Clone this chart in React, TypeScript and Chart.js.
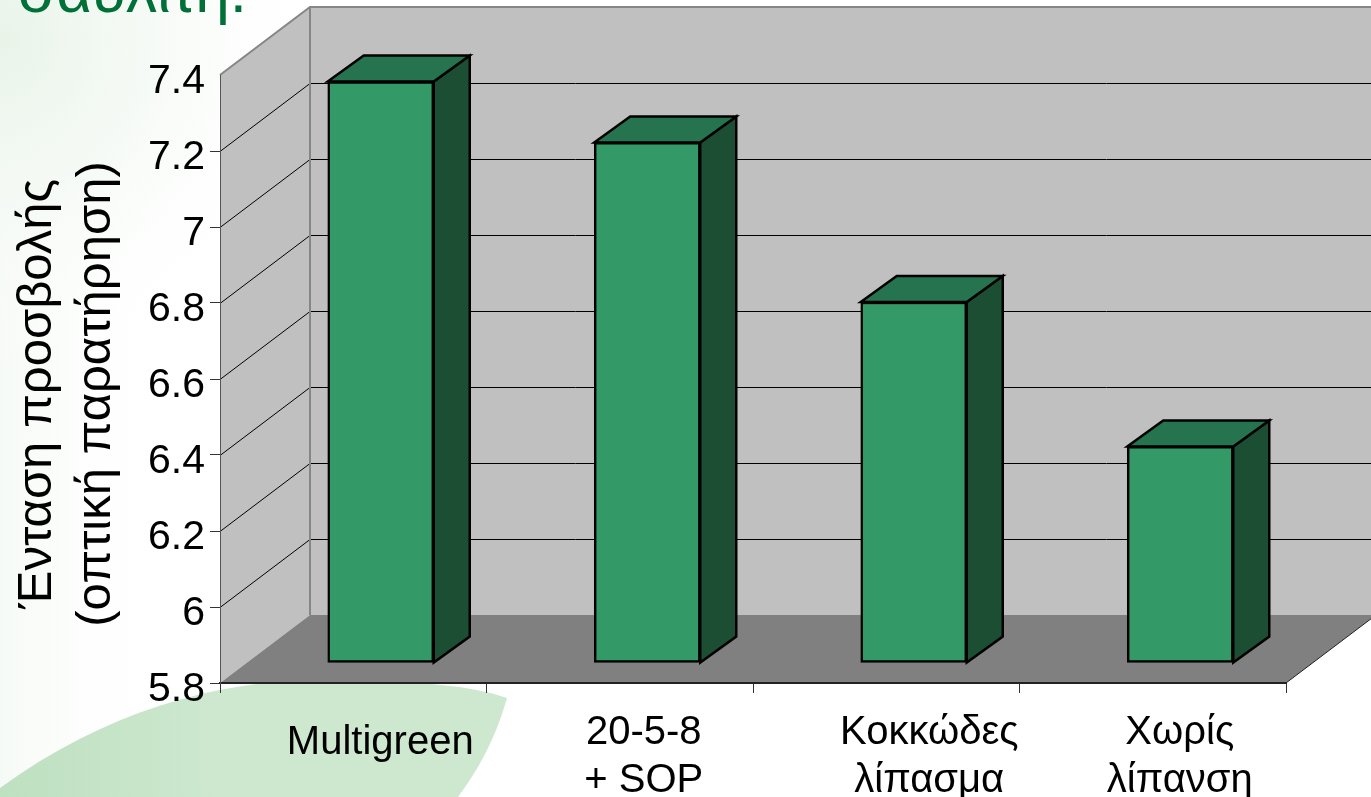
import React, { useEffect, useRef } from "react";
import { Chart, registerables } from "chart.js";

Chart.register(...registerables);

const categories: string[][] = [["Multigreen"], ["20-5-8", "+ SOP"], ["Κοκκώδες", "λίπασμα"], ["Χωρίς", "λίπανση"]];
const values = [7.33, 7.17, 6.75, 6.37];
const yTitle = ["Ένταση προσβολής", "(οπτική παρατήρηση)"];
const headline = "σαυλίτη.";
const labelNudgeX = [0, -3, 16, 0];
const labelNudgeY = [9, -1, -1, -1];

const DX = 90, DY = -68; // chart depth
const BAR_DX = 27.5, BAR_DY = -20; // bar front plane offset
const BDX = 36, BDY = -26; // bar depth
const FONT = "Liberation Sans, Arial, sans-serif";
const TITLE_SHIFT_X = 8, TITLE_SHIFT_Y = 15;

const scene = {
  id: "scene",
  beforeDraw(chart: any) {
    const { ctx, chartArea: a, scales } = chart;
    const W = chart.width, H = chart.height;
    ctx.save();
    // page background
    ctx.fillStyle = "#ffffff";
    ctx.fillRect(0, 0, W, H);
    let g = ctx.createLinearGradient(0, 0, 180, 0);
    g.addColorStop(0, "#f6faf6");
    g.addColorStop(1, "rgba(255,255,255,0)");
    ctx.fillStyle = g;
    ctx.fillRect(0, 0, 180, H);
    g = ctx.createRadialGradient(0, 40, 0, 0, 40, 340);
    g.addColorStop(0, "#e9f4e9");
    g.addColorStop(0.45, "rgba(244,249,244,0.8)");
    g.addColorStop(1, "rgba(255,255,255,0)");
    ctx.fillStyle = g;
    ctx.fillRect(0, 0, W, H);
    // leaf
    g = ctx.createLinearGradient(0, 0, 220, 0);
    g.addColorStop(0, "#bfe0c1");
    g.addColorStop(1, "#cde8cf");
    ctx.fillStyle = g;
    ctx.beginPath();
    ctx.moveTo(0, 788);
    ctx.bezierCurveTo(110, 708, 230, 675, 350, 680);
    ctx.bezierCurveTo(420, 682, 470, 685, 507, 698);
    ctx.bezierCurveTo(495, 740, 478, 770, 458, 797);
    ctx.lineTo(0, 797);
    ctx.closePath();
    ctx.fill();
    // headline (cut by the page top)
    ctx.fillStyle = "#007038";
    ctx.font = `62px ${FONT}`;
    ctx.textAlign = "left";
    ctx.textBaseline = "alphabetic";
    ctx.fillText(headline, 18, 12);

    // left wall
    ctx.fillStyle = "#c0c0c0";
    ctx.beginPath();
    ctx.moveTo(a.left, a.top);
    ctx.lineTo(a.left + DX, a.top + DY);
    ctx.lineTo(a.left + DX, a.bottom + DY);
    ctx.lineTo(a.left, a.bottom);
    ctx.closePath();
    ctx.fill();
    // back wall
    ctx.fillRect(a.left + DX, a.top + DY, a.right - a.left, a.bottom - a.top);
    // floor
    ctx.fillStyle = "#808080";
    ctx.beginPath();
    ctx.moveTo(a.left, a.bottom);
    ctx.lineTo(a.right, a.bottom);
    ctx.lineTo(a.right + DX, a.bottom + DY);
    ctx.lineTo(a.left + DX, a.bottom + DY);
    ctx.closePath();
    ctx.fill();
    // gridlines from the value scale
    ctx.strokeStyle = "#000000";
    ctx.lineWidth = 1;
    for (const t of scales.y.ticks) {
      if (t.value <= 5.8 || t.value >= 7.4) continue;
      const y = Math.round(scales.y.getPixelForValue(t.value)) + 0.5;
      ctx.beginPath();
      ctx.moveTo(a.left, y);
      ctx.lineTo(a.left + DX, y + DY);
      ctx.lineTo(a.right + DX, y + DY);
      ctx.stroke();
    }
    // wall edges
    ctx.strokeStyle = "#868686";
    ctx.lineWidth = 2;
    ctx.beginPath();
    ctx.moveTo(a.left, a.top);
    ctx.lineTo(a.left + DX, a.top + DY);
    ctx.lineTo(a.right + DX, a.top + DY);
    ctx.moveTo(a.left + DX, a.top + DY);
    ctx.lineTo(a.left + DX, a.bottom + DY);
    ctx.stroke();
    ctx.strokeStyle = "#222222";
    ctx.lineWidth = 1;
    ctx.beginPath();
    ctx.moveTo(a.right, a.bottom);
    ctx.lineTo(a.right + DX, a.bottom + DY);
    ctx.stroke();
    ctx.restore();

    // tick-label placement
    scales.x.getLabelItems().forEach((item: any, i: number) => {
      item.options.translation = [item.options.translation[0] + labelNudgeX[i], item.options.translation[1] + labelNudgeY[i]];
    });
    scales.y.getLabelItems().forEach((item: any) => {
      item.options.translation = [item.options.translation[0], item.options.translation[1] + 7];
    });
    const s = scales.y;
    if (!s.__shifted) {
      s.__shifted = true;
      const draw = s.drawTitle;
      s.drawTitle = function () {
        ctx.save();
        ctx.translate(TITLE_SHIFT_X, TITLE_SHIFT_Y);
        draw.call(s);
        ctx.restore();
      };
    }
  },
  beforeDatasetDraw(chart: any, args: any) {
    const { ctx } = chart;
    const bars = chart.getDatasetMeta(args.index).data;
    ctx.save();
    ctx.lineWidth = 2.5;
    ctx.strokeStyle = "#000000";
    ctx.lineJoin = "miter";
    for (const b of bars) {
      const r = b.x + BAR_DX + b.width / 2;
      const l = b.x + BAR_DX - b.width / 2;
      const t = b.y + BAR_DY;
      const bt = b.base + BAR_DY;
      ctx.fillStyle = "#1c4e33";
      ctx.beginPath();
      ctx.moveTo(r, t);
      ctx.lineTo(r + BDX, t + BDY);
      ctx.lineTo(r + BDX, bt + BDY);
      ctx.lineTo(r, bt);
      ctx.closePath();
      ctx.fill();
      ctx.stroke();
      ctx.fillStyle = "#267350";
      ctx.beginPath();
      ctx.moveTo(l, t);
      ctx.lineTo(l + BDX, t + BDY);
      ctx.lineTo(r + BDX, t + BDY);
      ctx.lineTo(r, t);
      ctx.closePath();
      ctx.fill();
      ctx.stroke();
    }
    ctx.restore();
    ctx.save();
    ctx.translate(BAR_DX, BAR_DY);
  },
  afterDatasetDraw(chart: any) {
    chart.ctx.restore();
  },
};

export default function App() {
  const ref = useRef<HTMLCanvasElement>(null);
  useEffect(() => {
    document.body.style.margin = "0";
    const chart = new Chart(ref.current!, {
      type: "bar",
      plugins: [scene],
      data: {
        labels: categories,
        datasets: [
          {
            data: values,
            base: 5.8,
            backgroundColor: "#339966",
            borderColor: "#000000",
            borderWidth: 2.5,
            borderSkipped: false,
            barThickness: 106,
            clip: false,
          } as any,
        ],
      },
      options: {
        animation: false,
        responsive: false,
        devicePixelRatio: 1,
        layout: { padding: { top: 75, right: 85, left: 0, bottom: 0 } },
        plugins: { legend: { display: false }, tooltip: { enabled: false }, title: { display: false } },
        scales: {
          x: {
            offset: true,
            afterFit: (s: any) => { s.height = 114; },
            grid: { drawOnChartArea: false, offset: true, tickLength: 10, color: "#333333" },
            border: { color: "#222222", width: 2 },
            ticks: {
              color: "#000000",
              font: { family: FONT, size: 40 },
              padding: 17,
              labelOffset: 27,
              maxRotation: 0,
              autoSkip: false,
              align: "center",
            },
          },
          y: {
            min: 5.8,
            max: 7.4,
            afterFit: (s: any) => { s.width = 220; },
            grid: {
              drawOnChartArea: false,
              tickLength: 10,
              tickColor: (c: any) => (c.tick && c.tick.value >= 7.4 ? "rgba(0,0,0,0)" : "#333333"),
            },
            border: { color: "#555555", width: 1 },
            ticks: {
              stepSize: 0.2,
              color: "#000000",
              font: { family: FONT, size: 41 },
              padding: 5,
              callback: (v: any) => String(Math.round(Number(v) * 10) / 10),
            },
            title: {
              display: true,
              text: yTitle,
              color: "#000000",
              font: { family: FONT, size: 49, lineHeight: 1.2 },
              padding: { top: 0, bottom: 0 },
            },
          },
        },
      },
    });
    return () => chart.destroy();
  }, []);
  return <canvas ref={ref} width={1371} height={797} style={{ display: "block", width: 1371, height: 797 }} />;
}
